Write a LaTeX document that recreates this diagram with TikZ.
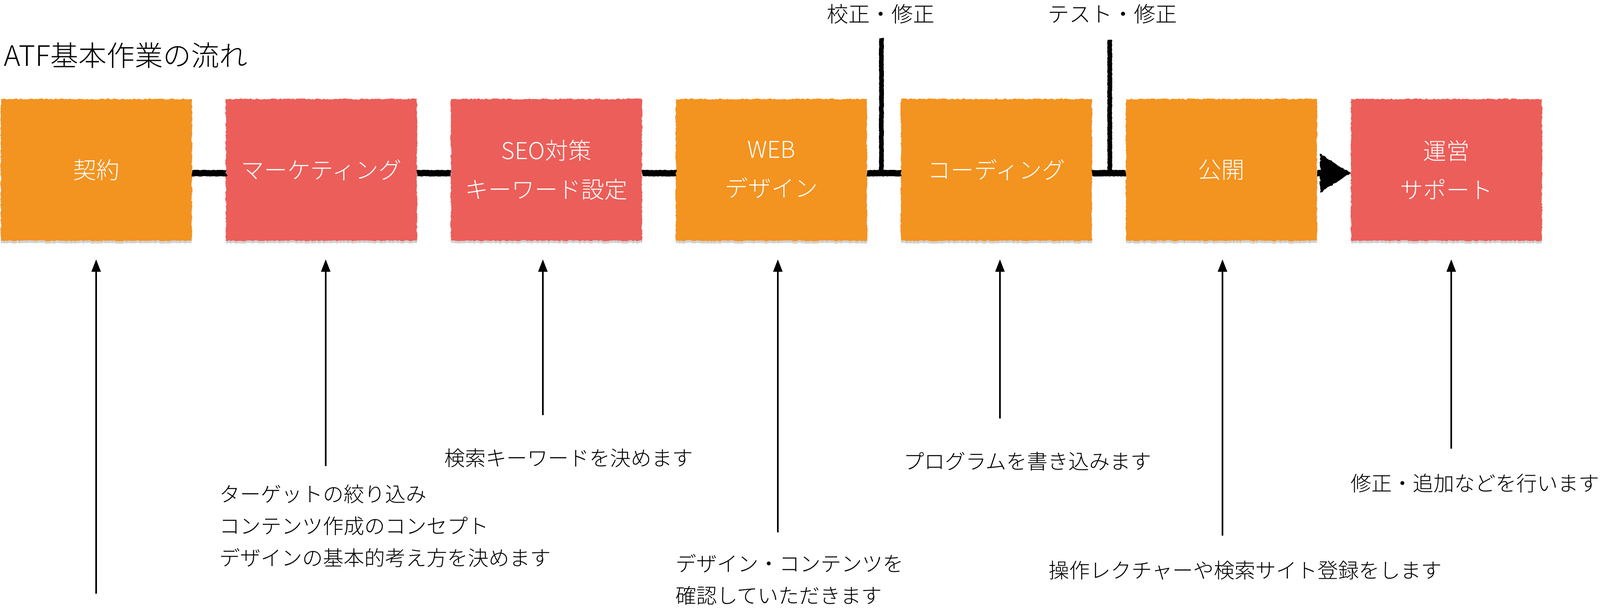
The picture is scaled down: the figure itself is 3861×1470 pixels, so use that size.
\documentclass[tikz,border=0pt]{standalone}
\usepackage{fontspec}
\setmainfont{Noto Sans CJK JP}[UprightFont={* Light}]
\usetikzlibrary{arrows.meta,decorations.pathmorphing,shadows,calc}
\definecolor{atforange}{HTML}{F39320}
\definecolor{atfred}{HTML}{EC5E59}
\begin{document}
\begin{tikzpicture}[x=0.5pt,y=-0.5pt,
  rough/.style={decorate,decoration={random steps,segment length=2pt,amplitude=0.8pt}},
  stepbox/.style={rough, minimum width=230.5pt, minimum height=171pt, inner sep=0pt,
    text=white, align=center, font=\fontsize{28}{47}\selectfont,
    drop shadow={shadow xshift=0pt,shadow yshift=-3pt,opacity=0.3,fill=black!60}},
  orangebox/.style={stepbox, fill=atforange},
  redbox/.style={stepbox, fill=atfred},
  chalk/.style={draw=black, line width=7.5pt, line join=round, line cap=butt, decorate,
    decoration={random steps,segment length=1pt,amplitude=0.35pt}},
  chalkv/.style={chalk, line width=5.5pt},
  note/.style={anchor=west, inner sep=0pt, align=left, font=\fontsize{25}{38.5}\selectfont},
  toplabel/.style={inner sep=0pt, font=\fontsize{26}{30}\selectfont},
  pointer/.style={draw=black, line width=2pt, -{Triangle[length=15pt,width=11pt]}},
]
\useasboundingbox (0,0) rectangle (3861,1470);

\node[anchor=west, inner sep=0pt, font=\fontsize{34}{40}\selectfont] (title) at (9,134) {ATF基本作業の流れ};

% boxes
\node[orangebox] (b1) at (232.5,410) {契約};
\node[redbox]    (b2) at (775.5,410) {マーケティング};
\node[redbox]    (b3) at (1318.5,410) {SEO対策\\キーワード設定};
\node[orangebox] (b4) at (1861.5,410) {WEB\\デザイン};
\node[orangebox] (b5) at (2404.5,410) {コーディング};
\node[orangebox] (b6) at (2947.5,410) {公開};
\node[redbox]    (b7) at (3490.5,410) {運営\\サポート};

% flow connectors
\draw[chalk] ([yshift=-4pt]b1.east) -- ([yshift=-4pt]b2.west);
\draw[chalk] ([yshift=-4pt]b2.east) -- ([yshift=-4pt]b3.west);
\draw[chalk] ([yshift=-4pt]b3.east) -- ([yshift=-4pt]b4.west);
\draw[chalk] ([yshift=-4pt]b4.east) -- ([yshift=-4pt]b5.west);
\draw[chalk] ([yshift=-4pt]b5.east) -- ([yshift=-4pt]b6.west);
\draw[chalk] ([yshift=-4pt]b6.east) -- ([yshift=-4pt,xshift=-30pt]b7.west);
\fill[black,rough] ([yshift=-4pt]b7.west) -- ++(-37pt,23.5pt) -- ++(0,-47pt) -- cycle;

% feedback labels on top
\node[toplabel] (fix1) at (2125,34) {校正・修正};
\node[toplabel] (fix2) at (2684,34) {テスト・修正};
\coordinate (t45) at (2127,92);
\coordinate (j45) at (2127,418);
\coordinate (t56) at (2678,96);
\coordinate (j56) at (2678,418);
\draw[chalkv] (t45) -- (j45);
\draw[chalkv] (t56) -- (j56);

% pointer arrows
\coordinate (s1) at (232,1433);  \coordinate (e1) at (232,626);
\coordinate (s2) at (786,1125);  \coordinate (e2) at (786,626);
\coordinate (s3) at (1310,1002); \coordinate (e3) at (1310,626);
\coordinate (s4) at (1877,1285); \coordinate (e4) at (1877,626);
\coordinate (s5) at (2413,1010); \coordinate (e5) at (2413,626);
\coordinate (s6) at (2950,1293); \coordinate (e6) at (2950,626);
\coordinate (s7) at (3502,1083); \coordinate (e7) at (3502,626);
\foreach \i in {1,...,7} {\draw[pointer] (s\i) -- (e\i);}

% notes
\node[note] (n2) at (529,1270) {ターゲットの絞り込み\\コンテンツ作成のコンセプト\\デザインの基本的考え方を決めます};
\node[note] (n3) at (1072,1106) {検索キーワードを決めます};
\node[note] (n4) at (1630,1399) {デザイン・コンテンツを\\確認していただきます};
\node[note] (n5) at (2180,1114) {プログラムを書き込みます};
\node[note] (n6) at (2530,1377) {操作レクチャーや検索サイト登録をします};
\node[note] (n7) at (3259,1166) {修正・追加などを行います};
\end{tikzpicture}
\end{document}
